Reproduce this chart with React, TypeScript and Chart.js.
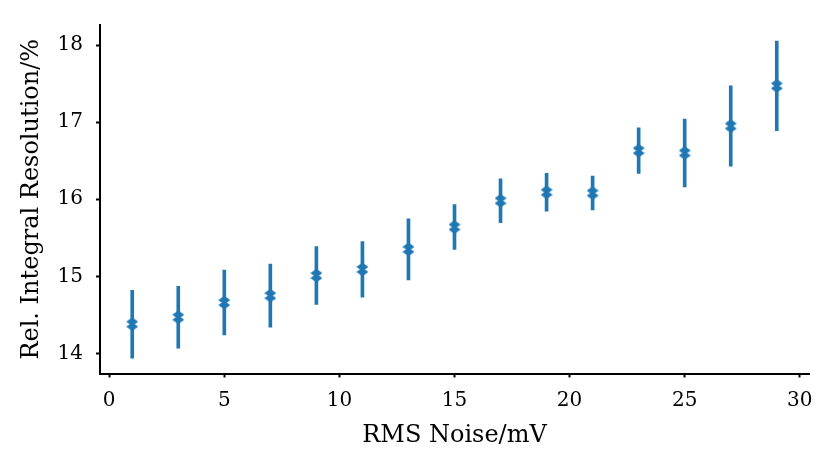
import React, { useEffect, useRef } from 'react';
import { Chart, registerables } from 'chart.js';

Chart.register(...registerables);

// RMS noise levels (mV)
const noise = [1, 3, 5, 7, 9, 11, 13, 15, 17, 19, 21, 23, 25, 27, 29];
// relative integral resolution (%)
const resolution = [14.38, 14.47, 14.66, 14.75, 15.01, 15.09, 15.35, 15.64, 15.98, 16.09, 16.08, 16.63, 16.6, 16.95, 17.47];
// half-length of the error bars (%)
const resolutionErr = [0.44, 0.4, 0.42, 0.41, 0.375, 0.36, 0.395, 0.29, 0.285, 0.245, 0.22, 0.295, 0.44, 0.52, 0.58];

const xTicks = [0, 5, 10, 15, 20, 25, 30];
const yTicks = [14, 15, 16, 17, 18];

const BLUE = '#1f77b4';

// two stacked thin diamonds, as in the source figure
function makeMarker(): HTMLCanvasElement {
  const c = document.createElement('canvas');
  c.width = 12;
  c.height = 13;
  const g = c.getContext('2d');
  if (g) {
    g.fillStyle = BLUE;
    g.strokeStyle = BLUE;
    g.lineWidth = 1.2;
    g.lineJoin = 'round';
    [4, 9].forEach((cy) => {
      g.beginPath();
      g.moveTo(6, cy - 3.4);
      g.lineTo(11, cy);
      g.lineTo(6, cy + 3.4);
      g.lineTo(1, cy);
      g.closePath();
      g.fill();
      g.stroke();
    });
  }
  return c;
}

const tickFont = { family: 'DejaVu Serif', size: 20 };
const titleFont = { family: 'DejaVu Serif', size: 24 };

const App: React.FC = () => {
  const canvasRef = useRef<HTMLCanvasElement>(null);
  const chartRef = useRef<Chart | null>(null);

  useEffect(() => {
    if (!canvasRef.current) return;
    const ctx = canvasRef.current.getContext('2d');
    if (!ctx) return;

    if (chartRef.current) chartRef.current.destroy();

    const marker = makeMarker();

    chartRef.current = new Chart(ctx, {
      type: 'scatter',
      data: {
        datasets: [
          {
            type: 'scatter',
            data: noise.map((x, i) => ({ x, y: resolution[i] })),
            pointStyle: marker,
            pointRadius: 6,
            order: 0,
          } as any,
          {
            type: 'bar',
            data: noise.map((x, i) => ({ x, y: [resolution[i] - resolutionErr[i], resolution[i] + resolutionErr[i]] })),
            backgroundColor: BLUE,
            borderWidth: 0,
            barThickness: 3,
            order: 1,
          } as any,
        ],
      },
      options: {
        animation: false,
        responsive: true,
        maintainAspectRatio: false,
        layout: { padding: { left: 0, right: 21, top: 22, bottom: 0 } },
        plugins: { legend: { display: false }, tooltip: { enabled: false } },
        scales: {
          x: {
            type: 'linear',
            min: -0.4,
            max: 30.4,
            offset: false,
            afterBuildTicks: (s: any) => { s.ticks = xTicks.map((value) => ({ value })); },
            afterFit: (s: any) => { s.height = 93.5; },
            grid: { offset: false, drawOnChartArea: false, drawTicks: true, tickLength: 4, tickWidth: 2, tickColor: '#000' },
            border: { display: true, color: '#000', width: 2 },
            ticks: { color: '#000', font: tickFont, padding: 11, maxRotation: 0 },
            title: { display: true, text: 'RMS Noise/mV', color: '#000', font: titleFont, padding: { top: 0, bottom: 17 } },
          },
          y: {
            type: 'linear',
            min: 13.74,
            max: 18.26,
            afterBuildTicks: (s: any) => { s.ticks = yTicks.map((value) => ({ value })); },
            afterFit: (s: any) => { s.width = 100; },
            grid: { drawOnChartArea: false, drawTicks: true, tickLength: 4, tickWidth: 2, tickColor: '#000' },
            border: { display: true, color: '#000', width: 2 },
            ticks: { color: '#000', font: tickFont, padding: 13 },
            title: { display: true, text: 'Rel. Integral Resolution/%', color: '#000', font: titleFont, padding: { top: 17, bottom: 0 } },
          },
        },
      } as any,
    });

    return () => {
      if (chartRef.current) {
        chartRef.current.destroy();
        chartRef.current = null;
      }
    };
  }, []);

  return (
    <div style={{ position: 'absolute', left: 0, top: 0, width: 830, height: 467, background: '#fff' }}>
      <canvas ref={canvasRef}></canvas>
    </div>
  );
};

export default App;
